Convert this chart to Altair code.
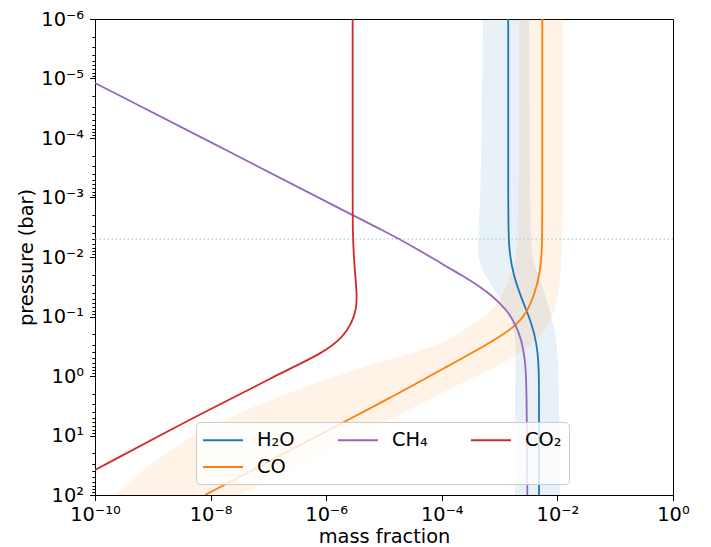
import altair as alt
import pandas as pd

# ---------------- data ----------------
species = ["H₂O", "CO₂", "CH₄", "CO"]
species_colors = ["#1f77b4", "#d62728", "#9467bd", "#ff7f0e"]

h2o_pressure = [1e-6, 1e-3, 6.8e-3, 2.1e-2, 5.9e-2, 0.13, 0.28, 0.71, 3.0, 100]
h2o_fraction = [1.41e-3, 1.41e-3, 1.41e-3, 1.73e-3, 2.57e-3, 3.59e-3, 4.38e-3, 4.81e-3, 4.81e-3, 4.81e-3]

co_pressure = [1e-6, 1e-3, 7.6e-3, 1.86e-2, 4.03e-2, 8.73e-2, 0.148, 0.279, 0.698, 2.34, 5.48, 100]
co_fraction = [5.48e-3, 5.48e-3, 5.48e-3, 5.0e-3, 4.09e-3, 2.94e-3, 1.85e-3, 6.82e-4, 1.22e-4, 1.27e-5, 2.38e-6, 8.0e-9]

ch4_pressure = [1.19e-5, 1.72e-4, 1.97e-3, 3.38e-3, 6.67e-3, 1.46e-2, 1.95e-2, 3.15e-2, 4.65e-2, 7.78e-2, 0.130, 0.248, 0.538, 1.17, 100]
ch4_fraction = [1e-10, 2.17e-8, 2.83e-6, 8.53e-6, 3.21e-5, 1.22e-4, 2.07e-4, 4.58e-4, 7.78e-4, 1.33e-3, 1.85e-3, 2.41e-3, 2.75e-3, 2.94e-3, 3.02e-3]

co2_pressure = [1e-6, 1e-3, 3.52e-3, 1.26e-2, 4.65e-2, 7.78e-2, 0.1285, 0.218, 0.410, 0.902, 1.33, 4.83, 38.0]
co2_fraction = [2.87e-6, 2.87e-6, 2.87e-6, 3.03e-6, 3.45e-6, 3.28e-6, 2.76e-6, 1.98e-6, 8.91e-7, 1.59e-7, 7.65e-8, 5.37e-9, 1e-10]

h2o_band_pressure = [1e-6, 1.10e-3, 7.6e-3, 1.47e-2, 2.74e-2, 5.93e-2, 0.1285, 0.279, 1.17, 100]
h2o_band_low = [5.16e-4, 4.77e-4, 4.06e-4, 4.58e-4, 6.82e-4, 1.15e-3, 1.71e-3, 1.92e-3, 1.85e-3, 1.85e-3]
h2o_band_high = [3.23e-3, 3.36e-3, 3.49e-3, 4.09e-3, 5.20e-3, 6.87e-3, 8.39e-3, 9.84e-3, 1.07e-2, 1.11e-2]

co_band_pressure = [1e-6, 5.18e-3, 1.36e-2, 3.59e-2, 7.19e-2, 0.115, 0.182, 0.279, 0.410, 0.706, 1.72, 4.89, 19.7, 100]
co_band_low = [2.17e-3, 2.17e-3, 1.85e-3, 1.24e-3, 8.32e-4, 4.58e-4, 2.07e-4, 1.14e-4, 3.05e-5, 4.16e-6, 2.88e-7, 2.0e-8, 1.44e-9, 2.22e-10]
co_band_high = [1.25e-2, 1.25e-2, 1.15e-2, 1.07e-2, 9.08e-3, 7.74e-3, 5.86e-3, 4.0e-3, 2.3e-3, 8.5e-4, 1.23e-4, 1.55e-5, 9.53e-7, 3.23e-8]

reference_pressure = [5e-3]

x_ticks = [1e-10, 1e-8, 1e-6, 1e-4, 1e-2, 1.0]
y_major = [1e-6, 1e-5, 1e-4, 1e-3, 1e-2, 1e-1, 1.0, 1e1, 1e2]
y_minor = [m * 10.0 ** k for k in range(-6, 2) for m in range(2, 10)]

# ---------------- tables ----------------
def series(name, p, x):
    return pd.DataFrame({"species": name, "p": p, "x": x, "i": list(range(len(p)))})

lines_df = pd.concat([
    series("H₂O", h2o_pressure, h2o_fraction),
    series("CO", co_pressure, co_fraction),
    series("CH₄", ch4_pressure, ch4_fraction),
    series("CO₂", co2_pressure, co2_fraction),
], ignore_index=True)

h2o_band_df = pd.DataFrame({"p": h2o_band_pressure, "lo": h2o_band_low, "hi": h2o_band_high})
co_band_df = pd.DataFrame({"p": co_band_pressure, "lo": co_band_low, "hi": co_band_high})
ref_df = pd.DataFrame({"p": reference_pressure})

# ---------------- scales & axes ----------------
FONT = "DejaVu Sans"
FS = 19.4
is_major = "abs(log(datum.value)/LN10 - round(log(datum.value)/LN10)) < 0.001"
sup = "['⁰','¹','²','³','⁴','⁵','⁶','⁷','⁸','⁹','¹⁰'][abs(round(log(datum.value)/LN10))]"
label_expr = f"({is_major}) ? '10' + (datum.value < 1 ? '⁻' : '') + {sup} : ''"

xscale = alt.Scale(type="log", domain=[1e-10, 1.0], nice=False)
yscale = alt.Scale(type="log", domain=[1e-6, 1e2], nice=False, reverse=True)

common_axis = dict(
    labelFlush=False, labelOverlap=False, grid=False,
    labelFont=FONT, titleFont=FONT, labelFontSize=FS, titleFontSize=FS,
    titleFontWeight="normal", labelColor="black", titleColor="black",
    domainColor="black", tickColor="black",
)
xaxis = alt.Axis(
    title="mass fraction", values=x_ticks, labelExpr=label_expr,
    tickSize=5.5, labelPadding=5, titlePadding=4, **common_axis,
)
yaxis = alt.Axis(
    title="pressure (bar)", values=y_major + y_minor, labelExpr=label_expr,
    tickSize={"condition": {"test": is_major, "value": 5.5}, "value": 3.2},
    labelPadding=6, titlePadding=4, **common_axis,
)

X = lambda f: alt.X(f"{f}:Q", scale=xscale, axis=xaxis)
Y = lambda f: alt.Y(f"{f}:Q", scale=yscale, axis=yaxis)

band_h2o = alt.Chart(h2o_band_df).mark_area(
    orient="horizontal", interpolate="basis", color="#1f77b4", opacity=0.1, clip=True
).encode(y=Y("p"), x=X("lo"), x2="hi")

band_co = alt.Chart(co_band_df).mark_area(
    orient="horizontal", interpolate="basis", color="#ff7f0e", opacity=0.1, clip=True
).encode(y=Y("p"), x=X("lo"), x2="hi")

ref_line = alt.Chart(ref_df).mark_rule(
    color="#add8e6", strokeDash=[1.5, 2.5], strokeWidth=1.5
).encode(y=Y("p"))

legend = alt.Legend(
    title=None, orient="none", legendX=101, legendY=403, columns=3,
    symbolType="M-2,0H2", symbolSize=400, symbolStrokeWidth=2,
    symbolOffset=9,
    labelFont=FONT, labelFontSize=FS, labelColor="black",
    labelOffset=23, columnPadding=39, rowPadding=6, padding=7,
    fillColor="rgba(255,255,255,0.8)", strokeColor="#cccccc", cornerRadius=4,
)

lines = alt.Chart(lines_df).mark_line(
    strokeWidth=1.8, interpolate="basis", clip=True
).encode(
    x=X("x"), y=Y("p"),
    color=alt.Color("species:N", scale=alt.Scale(domain=species, range=species_colors), legend=legend),
    order=alt.Order("i:Q"),
)

chart = alt.layer(band_h2o, band_co, ref_line, lines).properties(
    width=578, height=476, autosize="none", background="white",
    padding={"left": 95, "top": 19, "right": 38, "bottom": 52},
).configure_view(stroke="black", strokeWidth=1)

chart.save("out.html", embed_options={"renderer": "svg", "actions": False})
